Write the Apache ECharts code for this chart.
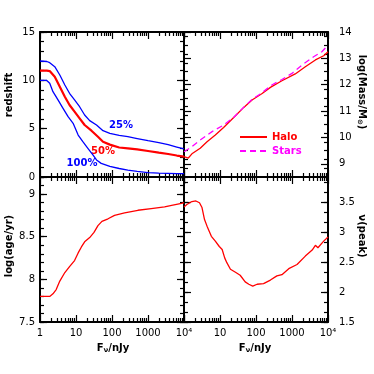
<!DOCTYPE html>
<html>
<head>
<meta charset="utf-8">
<script src="https://cdn.jsdelivr.net/npm/echarts@6/dist/echarts.min.js"></script>
<style>
html, body { margin: 0; padding: 0; background: #fff; }
#main { width: 374px; height: 374px; }
</style>
</head>
<body>
<div id="main"></div>
<script>
// x values are log10(F_nu / nJy)

// top left: redshift
var logF25 = [0, 0.19, 0.27, 0.41, 0.55, 0.69, 0.82, 0.96, 1.10, 1.24, 1.38, 1.57, 1.75, 1.94, 2.2, 2.44, 2.7, 3.0, 3.3, 3.56, 3.8, 4.0];
var z25 = [12.0, 11.95, 11.83, 11.41, 10.55, 9.52, 8.66, 7.97, 7.27, 6.41, 5.83, 5.38, 4.79, 4.52, 4.3, 4.17, 3.98, 3.76, 3.55, 3.34, 3.1, 2.9];
var logF50 = [0, 0.19, 0.27, 0.41, 0.55, 0.69, 0.82, 0.96, 1.10, 1.24, 1.43, 1.61, 1.75, 1.94, 2.2, 2.44, 2.7, 3.0, 3.3, 3.56, 3.8, 4.0];
var z50 = [11.0, 11.0, 10.96, 10.38, 9.34, 8.31, 7.45, 6.76, 6.07, 5.38, 4.79, 4.17, 3.65, 3.35, 3.05, 2.97, 2.85, 2.69, 2.52, 2.38, 2.22, 2.1];
var logF100 = [0, 0.18, 0.27, 0.36, 0.5, 0.64, 0.78, 0.92, 1.06, 1.19, 1.33, 1.47, 1.57, 1.70, 1.94, 2.2, 2.44, 2.7, 3.0, 3.3, 3.56, 3.8, 4.0];
var z100 = [10.0, 10.0, 9.69, 8.83, 7.97, 7.1, 6.24, 5.55, 4.34, 3.65, 2.97, 2.28, 1.76, 1.41, 1.1, 0.88, 0.72, 0.58, 0.45, 0.4, 0.38, 0.35, 0.35];

// top right: log mass
var logFHalo = [0, 0.12, 0.22, 0.45, 0.64, 0.87, 1.10, 1.38, 1.66, 1.89, 2.17, 2.40, 2.72, 3.09, 3.37, 3.65, 3.88, 4.0];
var massHalo = [9.27, 9.22, 9.38, 9.59, 9.84, 10.09, 10.38, 10.76, 11.14, 11.42, 11.67, 11.90, 12.15, 12.41, 12.68, 12.94, 13.10, 13.25];
var logFStars = [0, 0.22, 0.45, 0.78, 1.10, 1.38, 1.66, 1.89, 2.17, 2.44, 2.72, 3.0, 3.28, 3.6, 3.83, 4.0];
var massStars = [9.46, 9.65, 9.90, 10.22, 10.47, 10.76, 11.15, 11.44, 11.70, 11.99, 12.2, 12.43, 12.75, 13.06, 13.25, 13.5];

// bottom left: log age
var logFAge = [0, 0.27, 0.36, 0.45, 0.55, 0.69, 0.82, 0.96, 1.06, 1.15, 1.24, 1.38, 1.5, 1.61, 1.72, 1.89, 2.07, 2.35, 2.72, 3.09, 3.46, 3.69, 3.93, 4.0];
var logAge = [7.80, 7.80, 7.83, 7.88, 7.98, 8.08, 8.15, 8.22, 8.31, 8.38, 8.44, 8.49, 8.55, 8.63, 8.68, 8.71, 8.75, 8.78, 8.81, 8.83, 8.85, 8.87, 8.89, 8.90];

// bottom right: nu(peak)
var logFPeak = [0, 0.08, 0.22, 0.33, 0.43, 0.5, 0.57, 0.64, 0.76, 0.87, 0.98, 1.06, 1.13, 1.19, 1.29, 1.43, 1.56, 1.70, 1.80, 1.91, 2.03, 2.21, 2.40, 2.58, 2.72, 2.91, 3.14, 3.37, 3.56, 3.65, 3.72, 3.88, 4.0];
var nuPeak = [3.42, 3.46, 3.51, 3.52, 3.49, 3.41, 3.21, 3.10, 2.93, 2.85, 2.76, 2.71, 2.57, 2.49, 2.38, 2.33, 2.28, 2.17, 2.13, 2.10, 2.13, 2.14, 2.20, 2.27, 2.29, 2.39, 2.46, 2.60, 2.70, 2.78, 2.74, 2.85, 2.92];

// tick labels
var xMajor = [0, 1, 2, 3, 4];
var xTickText = ['1', '10', '100', '1000', '10\u2074'];
var yMajorTL = [0, 5, 10, 15];
var yMajorTR = [9, 10, 11, 12, 13, 14];
var yMajorBL = [7.5, 8, 8.5, 9];
var yMajorBR = [1.5, 2, 2.5, 3, 3.5];

var FONT = 'DejaVu Sans';
var RED = '#ff0000', BLUE = '#0000ff', MAGENTA = '#ff00ff';

// minor ticks: 2..9 in each decade
var xMinor = [];
for (var d = 0; d < 4; d++) {
	for (var k = 2; k < 10; k++) {
		xMinor.push(d + Math.log10(k));
	}
}
function steps(from, to, step) {
	var out = [];
	for (var v = from; v <= to + 1e-9; v += step) {
		out.push(Math.round(v * 1000) / 1000);
	}
	return out;
}

var grids = [
	{left: 40, top: 32, width: 144, height: 145},
	{left: 184, top: 32, width: 144, height: 145},
	{left: 40, top: 177, width: 144, height: 145},
	{left: 184, top: 177, width: 144, height: 145}
];
var yRange = [[0, 15], [8.5, 14], [7.5, 9.2], [1.5, 3.92]];
var yMajor = [yMajorTL, yMajorTR, yMajorBL, yMajorBR];
var yMinor = [steps(0, 15, 1), steps(8.5, 14, 1 / 3), steps(7.5, 9.2, 0.1), steps(1.5, 3.9, 1 / 6)];

function axisBase(kind, g, pos, min, max, ticks, len, line, labels, margin) {
	var a = {
		type: 'value', gridIndex: g, position: pos, min: min, max: max,
		axisLine: {show: line, onZero: false, lineStyle: {color: '#000', width: 2}},
		axisTick: {show: true, inside: true, length: len, customValues: ticks, lineStyle: {color: '#000', width: 1.2}},
		axisLabel: {show: false},
		splitLine: {show: false}
	};
	if (labels) {
		a.axisLabel = {
			show: true, customValues: labels, margin: margin,
			color: '#000', fontFamily: FONT, fontSize: 10
		};
		if (kind == 'x') {
			a.axisLabel.formatter = function(v) { return xTickText[Math.round(v)]; };
		}
	}
	return a;
}

var xAxes = [], yAxes = [];
for (var g = 0; g < 4; g++) {
	var bottomRow = g >= 2;
	var leftCol = g % 2 == 0;
	var xLab = null;
	if (bottomRow) {
		xLab = leftCol ? xMajor : xMajor.slice(1);
	}
	// index 4g = main axis used by the series
	xAxes.push(axisBase('x', g, 'bottom', 0, 4, xMajor, 7, true, xLab, 6));
	xAxes.push(axisBase('x', g, 'bottom', 0, 4, xMinor, 4, false));
	xAxes.push(axisBase('x', g, 'top', 0, 4, xMajor, 7, true));
	xAxes.push(axisBase('x', g, 'top', 0, 4, xMinor, 4, false));

	var r = yRange[g];
	yAxes.push(axisBase('y', g, 'left', r[0], r[1], yMajor[g], 7, true, leftCol ? yMajor[g] : null, 5));
	yAxes.push(axisBase('y', g, 'left', r[0], r[1], yMinor[g], 4, false));
	yAxes.push(axisBase('y', g, 'right', r[0], r[1], yMajor[g], 7, true, leftCol ? null : yMajor[g], 11));
	yAxes.push(axisBase('y', g, 'right', r[0], r[1], yMinor[g], 4, false));
}

function pairs(xs, ys) {
	var out = [];
	for (var i = 0; i < xs.length; i++) {
		out.push([xs[i], ys[i]]);
	}
	return out;
}
function curve(name, g, xs, ys, color, width, dashed) {
	return {
		name: name, type: 'line', xAxisIndex: 4 * g, yAxisIndex: 4 * g,
		data: pairs(xs, ys), symbol: 'none', showSymbol: false, clip: true,
		lineStyle: {color: color, width: width, type: dashed ? [6, 4] : 'solid'},
		itemStyle: {color: color}
	};
}

var series = [
	curve('25%', 0, logF25, z25, BLUE, 1.3),
	curve('50%', 0, logF50, z50, RED, 2.2),
	curve('100%', 0, logF100, z100, BLUE, 1.3),
	curve('Halo', 1, logFHalo, massHalo, RED, 1.3),
	curve('Stars', 1, logFStars, massStars, MAGENTA, 1.3, true),
	curve('age', 2, logFAge, logAge, RED, 1.3),
	curve('peak', 3, logFPeak, nuPeak, RED, 1.3)
];

function label(text, x, y, color, rot, rich) {
	var t = {
		type: 'text', x: x, y: y, rotation: rot || 0,
		style: {
			text: text, fill: color, align: 'center', verticalAlign: 'middle',
			font: 'bold 10px "' + FONT + '"'
		}
	};
	if (rich) {
		t.style.rich = rich;
	}
	return t;
}
var sub = {
	n: {fontFamily: FONT, fontWeight: 'bold', fontSize: 10, lineHeight: 12},
	s: {fontFamily: FONT, fontWeight: 'bold', fontSize: 7, lineHeight: 8, verticalAlign: 'bottom'}
};

var option = {
	animation: false,
	backgroundColor: '#fff',
	grid: grids,
	xAxis: xAxes,
	yAxis: yAxes,
	series: series,
	legend: {
		data: [{name: 'Halo', textStyle: {color: RED}}, {name: 'Stars', textStyle: {color: MAGENTA}}],
		orient: 'vertical', left: 239, top: 132, padding: 0,
		itemWidth: 27, itemHeight: 10, itemGap: 4,
		// hide the round marker ECharts puts on line icons
		itemStyle: {color: 'rgba(0,0,0,0)', borderColor: 'rgba(0,0,0,0)', borderWidth: 0},
		textStyle: {fontFamily: FONT, fontWeight: 'bold', fontSize: 10}
	},
	graphic: [
		label('25%', 121, 125, BLUE),
		label('50%', 103, 151, RED),
		label('100%', 82, 163, BLUE),
		label('redshift', 9, 95, '#000', Math.PI / 2),
		label('log(age/yr)', 9, 246, '#000', Math.PI / 2),
		label('{n|log(Mass/M}{s|\u2299}{n|)}', 362, 92, '#000', -Math.PI / 2, sub),
		label('\u03bd(peak)', 362, 236, '#000', -Math.PI / 2),
		label('{n|F}{s|\u03bd}{n|/nJy}', 113, 348, '#000', 0, sub),
		label('{n|F}{s|\u03bd}{n|/nJy}', 255, 348, '#000', 0, sub)
	]
};

var chart = echarts.init(document.getElementById('main'));
chart.setOption(option);
</script>
</body>
</html>
